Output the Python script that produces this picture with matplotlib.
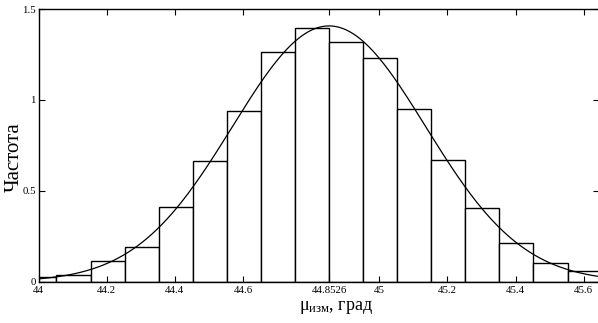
import numpy as np
from matplotlib import pyplot as plt

# histogram: bin edges follow the mean 44.8526 with step 0.1
bin_left = [43.9526, 44.0526, 44.1526, 44.2526, 44.3526, 44.4526, 44.5526,
            44.6526, 44.7526, 44.8526, 44.9526, 45.0526, 45.1526, 45.2526,
            45.3526, 45.4526, 45.5526]
freq = [0.024, 0.039, 0.112, 0.189, 0.409, 0.663, 0.940, 1.266, 1.396,
        1.318, 1.232, 0.949, 0.670, 0.408, 0.211, 0.101, 0.057]
bin_width = 0.1

# fitted normal density
mean_val = 44.8526
sigma_val = 0.2835

x_ticks = [44, 44.2, 44.4, 44.6, 44.8526, 45, 45.2, 45.4, 45.6]
x_tick_labels = ['44', '44.2', '44.4', '44.6', '44.8526', '45', '45.2', '45.4', '45.6']
y_ticks = [0, 0.5, 1, 1.5]
y_tick_labels = ['0', '0.5', '1', '1.5']

plt.rcParams['font.family'] = ['Liberation Serif', 'DejaVu Serif']
plt.rcParams['mathtext.fontset'] = 'custom'
plt.rcParams['mathtext.rm'] = 'Liberation Serif'
plt.rcParams['mathtext.it'] = 'Liberation Serif:italic'

fig = plt.figure(figsize=(5.98, 3.23), dpi=100)
ax = fig.add_axes([0.0645, 0.128, 0.9372, 0.844])

ax.bar(bin_left, freq, width=bin_width, align='edge',
       facecolor='white', edgecolor='black', linewidth=1.0)

xs = np.linspace(43.9, 45.8, 400)
pdf = np.exp(-0.5 * ((xs - mean_val) / sigma_val) ** 2) / (sigma_val * np.sqrt(2 * np.pi))
ax.plot(xs, pdf, color='black', linewidth=0.9)

ax.set_xlim(44, 45.645)
ax.set_ylim(0, 1.5)
ax.set_xticks(x_ticks)
ax.set_xticklabels(x_tick_labels)
ax.set_yticks(y_ticks)
ax.set_yticklabels(y_tick_labels)
ax.tick_params(direction='in', top=True, right=True, labelsize=7.8,
               length=4, width=0.8, pad=2)
ax.tick_params(axis='x', pad=3)
for s in ax.spines.values():
    s.set_linewidth(1.0)

ax.set_ylabel('Частота', fontsize=15)
ax.yaxis.set_label_coords(-0.027, 0.456)
ax.set_xlabel('$\\mathrm{μ_{изм}}$, град', fontsize=13)
ax.xaxis.set_label_coords(0.53, -0.065)
ax.xaxis.label.set_verticalalignment('top')

fig.savefig('out.png', dpi=100)
